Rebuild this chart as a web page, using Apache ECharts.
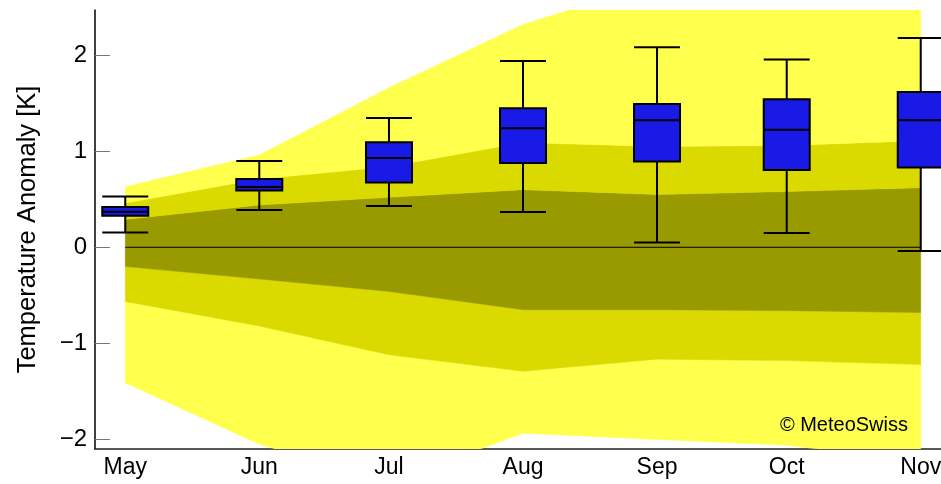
<!DOCTYPE html>
<html>
<head>
<meta charset="utf-8">
<script src="https://cdn.jsdelivr.net/npm/echarts@6/dist/echarts.min.js"></script>
<style>
  html, body { margin: 0; padding: 0; background: #fff; }
  #chart { width: 941px; height: 484px; }
</style>
</head>
<body>
<div id="chart"></div>
<script>
// Forecast months, placed by their day offset from mid-May
const months = ['May', 'Jun', 'Jul', 'Aug', 'Sep', 'Oct', 'Nov'];
const monthDay = [0, 31, 61, 92, 123, 153, 184];

// Climatological spread bands (K)
const outerHigh = [0.63, 0.96, 1.66, 2.32, 2.75, 2.80, 2.85];
const midHigh   = [0.46, 0.71, 0.84, 1.09, 1.05, 1.06, 1.11];
const innerHigh = [0.29, 0.44, 0.52, 0.60, 0.55, 0.58, 0.62];
const innerLow  = [-0.20, -0.33, -0.46, -0.65, -0.65, -0.66, -0.68];
const midLow    = [-0.565, -0.82, -1.12, -1.29, -1.165, -1.18, -1.22];
const outerLow  = [-1.41, -2.05, -2.45, -1.935, -2.00, -2.06, -2.23];

// Ensemble forecast distribution (K)
const whiskerLow  = [0.154, 0.387, 0.429, 0.367, 0.05, 0.148, -0.04];
const q1          = [0.328, 0.592, 0.675, 0.877, 0.894, 0.804, 0.831];
const median      = [0.37, 0.627, 0.929, 1.238, 1.321, 1.224, 1.321];
const q3          = [0.419, 0.71, 1.092, 1.446, 1.492, 1.54, 1.617];
const whiskerHigh = [0.529, 0.898, 1.346, 1.94, 2.081, 1.956, 2.179];

// Y axis ticks
const yTicks = [-2, -1, 0, 1, 2];

const FONT = '"Liberation Sans", Arial, Helvetica, sans-serif';
const C_OUTER = '#ffff4d';
const C_MID = '#dada00';
const C_INNER = '#999900';

// Each band is the region between two consecutive edges
const edges = [outerLow, midLow, innerLow, innerHigh, midHigh, outerHigh];
const bandColors = [C_OUTER, C_MID, C_INNER, C_MID, C_OUTER];
const bandIndex = bandColors.map((c, i) => [i]);

function renderBand(params, api) {
  const k = api.value(0);
  const lower = edges[k];
  const upper = edges[k + 1];
  const pts = [];
  for (let i = 0; i < monthDay.length; i++) pts.push(api.coord([monthDay[i], upper[i]]));
  for (let i = monthDay.length - 1; i >= 0; i--) pts.push(api.coord([monthDay[i], lower[i]]));
  const cs = params.coordSys;
  return {
    type: 'polygon',
    shape: { points: pts },
    style: { fill: bandColors[k], stroke: bandColors[k], lineWidth: 0.5 },
    clipPath: { type: 'rect', shape: { x: cs.x, y: cs.y, width: cs.width, height: cs.height } },
    silent: true
  };
}

const boxData = monthDay.map((d, i) => [d, whiskerLow[i], q1[i], median[i], q3[i], whiskerHigh[i]]);

const fmtY = v => (v < 0 ? '\u2212' + Math.abs(v) : String(v));
const fmtX = v => {
  const i = monthDay.indexOf(Math.round(v));
  return i >= 0 ? months[i] : '';
};

const chart = echarts.init(document.getElementById('chart'), null, { renderer: 'canvas' });
chart.setOption({
  animation: false,
  backgroundColor: '#ffffff',
  grid: { left: 95, width: 856, top: 10, height: 439, containLabel: false, outerBoundsMode: 'none' },
  xAxis: {
    type: 'value',
    min: -7,
    max: 191,
    axisLine: { show: true, onZero: false, lineStyle: { color: '#222', width: 1.5 } },
    axisTick: { show: false },
    splitLine: { show: false },
    axisLabel: {
      customValues: monthDay,
      formatter: fmtX,
      color: '#000',
      fontFamily: FONT,
      fontSize: 23,
      margin: 7
    }
  },
  yAxis: {
    type: 'value',
    min: -2.1,
    max: 2.47,
    name: 'Temperature Anomaly [K]',
    nameLocation: 'middle',
    nameGap: 54,
    nameRotate: 90,
    nameTextStyle: { color: '#000', fontFamily: FONT, fontSize: 25.5 },
    axisLine: { show: true, onZero: false, lineStyle: { color: '#000', width: 1.5 } },
    axisTick: { show: true, inside: true, length: 15, customValues: yTicks, lineStyle: { color: '#777', width: 1 } },
    splitLine: { show: false },
    axisLabel: {
      customValues: yTicks,
      formatter: fmtY,
      color: '#000',
      fontFamily: FONT,
      fontSize: 24,
      margin: 8
    }
  },
  graphic: [{
    type: 'text',
    z: 100,
    style: {
      text: '\u00a9 MeteoSwiss',
      x: 908,
      y: 425.3,
      align: 'right',
      verticalAlign: 'middle',
      fill: '#000',
      font: '20px ' + FONT
    }
  }],
  series: [
    {
      type: 'custom',
      renderItem: renderBand,
      data: bandIndex,
      silent: true,
      z: 1
    },
    {
      type: 'line', symbol: 'none', silent: true,
      data: monthDay.map(d => [d, 0]),
      lineStyle: { color: '#000', width: 1 },
      z: 3
    },
    {
      type: 'boxplot',
      data: boxData,
      boxWidth: [46, 46],
      silent: true,
      itemStyle: { color: '#1a1ae6', borderColor: '#000', borderWidth: 2 },
      z: 5
    }
  ]
});
</script>
</body>
</html>
